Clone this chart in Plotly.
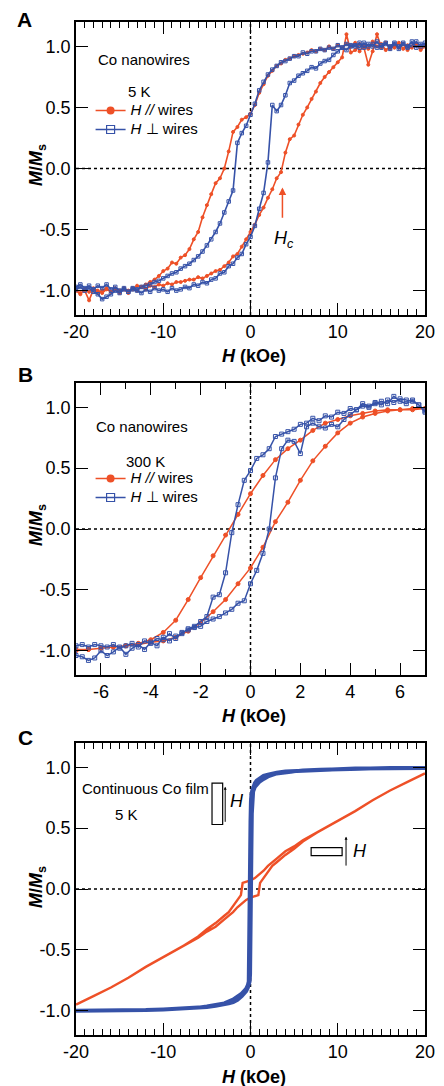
import plotly.graph_objects as go

RED = '#EE5027'
BLUE = '#3652A8'
FONT = 'Liberation Sans, Arial, Helvetica, sans-serif'

# ---------------- panel A : Co nanowires, 5 K ----------------
# field sweep from +20 down to -20 kOe; ascending branch uses the reverse
H_A = [20, 19.5, 19, 18.5, 18, 17.5, 17, 16.5, 16, 15.5, 15, 14.5, 14, 13.5, 13, 12.5, 12, 11.5, 11, 10.5,
       10, 9.5, 9, 8.5, 8, 7.5, 7, 6.5, 6, 5.5, 5, 4.5, 4, 3.5, 3, 2.5, 2, 1.5, 1, 0.5,
       0, -0.5, -1, -1.5, -2, -2.5, -3, -3.5, -4, -4.5, -5, -5.5, -6, -6.5, -7, -7.5, -8, -8.5, -9, -9.5,
       -10, -10.5, -11, -11.5, -12, -12.5, -13, -13.5, -14, -14.5, -15, -15.5, -16, -16.5, -17, -17.5, -18, -18.5, -19, -19.5,
       -20]

# H // wires, sweep down (20 -> -20)
red_a_down = [1.00, 0.97, 1.02, 0.99, 1.01, 0.98, 1.03, 0.99, 1.00, 0.97, 1.02, 1.00, 1.04, 0.98, 1.01, 0.96, 1.03, 1.00, 1.02, 0.99,
              1.01, 0.98, 1.00, 0.97, 0.98, 0.96, 0.97, 0.95, 0.94, 0.93, 0.92, 0.90, 0.89, 0.86, 0.84, 0.80, 0.76, 0.69, 0.62, 0.52,
              0.45, 0.42, 0.40, 0.34, 0.30, 0.14, 0.00, -0.08, -0.12, -0.21, -0.30, -0.40, -0.52, -0.58, -0.66, -0.71, -0.73, -0.78, -0.77, -0.82,
              -0.84, -0.88, -0.91, -0.93, -0.95, -0.97, -0.96, -0.99, -1.00, -0.98, -1.02, -0.99, -1.01, -0.98, -1.00, -1.02, -0.99, -1.08, -1.00, -1.02,
              -1.00]
# H // wires, sweep up (-20 -> 20)
red_a_up = [-1.00, -1.03, -0.99, -1.01, -0.98, -1.00, -1.02, -0.99, -1.01, -0.98, -1.00, -0.99, -1.02, -0.98, -1.00, -0.97, -0.99, -0.96, -0.97, -0.95,
            -0.96, -0.94, -0.95, -0.93, -0.93, -0.92, -0.91, -0.91, -0.89, -0.90, -0.88, -0.86, -0.84, -0.83, -0.80, -0.77, -0.72, -0.70, -0.64, -0.58,
            -0.52, -0.46, -0.38, -0.32, -0.24, -0.17, -0.08, -0.03, 0.13, 0.24, 0.27, 0.36, 0.44, 0.50, 0.57, 0.63, 0.70, 0.75, 0.79, 0.83,
            0.87, 0.91, 1.10, 0.95, 0.97, 1.02, 0.99, 0.85, 0.96, 1.10, 0.99, 1.03, 0.98, 1.01, 0.99, 1.02, 0.97, 1.00, 1.02, 0.98,
            1.00]
# H perpendicular to wires, sweep down (20 -> -20)
blue_a_down = [1.03, 1.00, 1.04, 1.01, 0.99, 1.03, 1.00, 1.02, 0.98, 1.03, 1.01, 0.99, 1.02, 1.00, 1.03, 0.99, 1.01, 1.00, 1.02, 0.99,
               1.01, 0.98, 0.99, 0.97, 0.98, 0.96, 0.96, 0.94, 0.95, 0.92, 0.92, 0.90, 0.88, 0.87, 0.84, 0.81, 0.77, 0.71, 0.64, 0.53,
               0.44, 0.35, 0.29, 0.21, -0.18, -0.27, -0.36, -0.45, -0.52, -0.58, -0.63, -0.68, -0.72, -0.75, -0.78, -0.80, -0.82, -0.85, -0.86, -0.88,
               -0.90, -0.92, -0.93, -0.95, -0.96, -0.97, -0.99, -0.98, -1.01, -0.99, -1.02, -1.00, -1.03, -1.05, -1.07, -1.03, -1.01, -0.98, -1.00, -0.97,
               -0.99]
# H perpendicular to wires, sweep up (-20 -> 20)
blue_a_up = [-0.97, -0.95, -0.98, -0.96, -0.99, -0.96, -0.98, -0.95, -0.99, -0.97, -1.00, -0.98, -1.01, -0.99, -1.00, -1.02, -0.99, -1.01, -0.98, -1.00,
             -0.99, -1.01, -0.98, -1.00, -0.99, -0.97, -0.98, -0.95, -0.96, -0.93, -0.94, -0.91, -0.90, -0.86, -0.85, -0.80, -0.78, -0.73, -0.70, -0.62,
             -0.56, -0.47, -0.33, -0.20, 0.05, 0.52, 0.47, 0.52, 0.60, 0.70, 0.72, 0.76, 0.78, 0.80, 0.83, 0.82, 0.86, 0.88, 0.89, 0.93,
             0.96, 0.99, 0.97, 1.01, 1.00, 1.03, 0.99, 1.02, 1.00, 1.04, 0.99, 1.02, 1.00, 1.03, 0.98, 1.02, 1.00, 1.04, 0.99, 1.02,
             1.01]

# ---------------- panel B : Co nanowires, 300 K ----------------
H_B_RED = [7, 6.5, 6, 5.5, 5, 4.5, 4, 3.5, 3, 2.5, 2, 1.5, 1, 0.5, 0,
           -0.5, -1, -1.5, -2, -2.5, -3, -3.5, -4, -4.5, -5, -5.5, -6, -6.5, -7]
red_b_down = [0.99, 0.99, 0.98, 0.98, 0.97, 0.95, 0.93, 0.90, 0.87, 0.81, 0.73, 0.66, 0.57, 0.44, 0.29,
              0.12, -0.05, -0.22, -0.40, -0.58, -0.75, -0.85, -0.91, -0.94, -0.96, -0.97, -0.98, -0.99, -1.00]
red_b_up = [-0.99, -0.99, -0.98, -0.97, -0.96, -0.95, -0.93, -0.92, -0.89, -0.84, -0.77, -0.68, -0.58, -0.45, -0.32,
            -0.15, 0.06, 0.22, 0.40, 0.56, 0.68, 0.79, 0.87, 0.92, 0.95, 0.97, 0.98, 0.98, 0.99]

H_B_BLUE = [7, 6.75, 6.5, 6.25, 6, 5.75, 5.5, 5.25, 5, 4.75, 4.5, 4.25, 4, 3.75, 3.5, 3.25, 3, 2.75, 2.5, 2.25,
            2, 1.75, 1.5, 1.25, 1, 0.75, 0.5, 0.25, 0, -0.25, -0.5, -0.75, -1, -1.25, -1.5, -1.75, -2, -2.25, -2.5, -2.75,
            -3, -3.25, -3.5, -3.75, -4, -4.25, -4.5, -4.75, -5, -5.25, -5.5, -5.75, -6, -6.25, -6.5, -6.75, -7]
blue_b_down = [0.97, 1.02, 1.05, 1.06, 1.07, 1.04, 1.06, 1.02, 1.04, 1.01, 1.03, 0.98, 0.99, 0.95, 0.96, 0.92, 0.93, 0.89, 0.91, 0.87,
               0.86, 0.82, 0.80, 0.78, 0.76, 0.66, 0.61, 0.58, 0.48, 0.40, 0.20, -0.03, -0.36, -0.54, -0.56, -0.72, -0.76, -0.80, -0.82, -0.86,
               -0.88, -0.92, -0.89, -0.96, -0.93, -0.99, -0.95, -0.98, -1.03, -0.97, -1.01, -1.04, -1.00, -1.06, -1.08, -1.05, -1.04]
blue_b_up = [-0.96, -0.95, -0.97, -0.95, -0.96, -0.97, -0.95, -0.98, -0.96, -0.94, -0.97, -0.92, -0.94, -0.90, -0.91, -0.86, -0.90, -0.85, -0.83, -0.81,
             -0.80, -0.76, -0.74, -0.72, -0.69, -0.66, -0.61, -0.59, -0.45, -0.34, -0.20, 0.00, 0.42, 0.66, 0.73, 0.72, 0.62, 0.84, 0.87, 0.84,
             0.83, 0.86, 0.84, 0.90, 0.94, 0.98, 1.01, 1.00, 1.03, 1.05, 1.03, 1.09, 1.05, 1.03, 1.06, 1.02, 0.96]

# ---------------- panel C : continuous Co film, 5 K ----------------
H_C_RED = [20, 18, 16, 14, 12, 10, 8, 6, 5, 4, 3, 2, 1.5, 1, 0.5, 0, -0.5, -0.9, -1.1, -1.5, -2, -2.5, -3, -4, -5, -6,
           -8, -10, -12, -14, -16, -18, -20]
red_c_down = [0.95, 0.88, 0.81, 0.73, 0.64, 0.56, 0.48, 0.40, 0.35, 0.31, 0.25, 0.19, 0.15, 0.12, 0.09, 0.07, 0.06, 0.05, -0.05, -0.09,
              -0.15, -0.19, -0.22, -0.28, -0.33, -0.39, -0.48, -0.56, -0.64, -0.73, -0.81, -0.88, -0.95]
H_C_RED_UP = [-20, -18, -16, -14, -12, -10, -8, -6, -5, -4, -3, -2, -1.5, -1, -0.5, 0, 0.5, 0.9, 1.1, 1.5, 2, 2.5, 3, 4, 5, 6,
              8, 10, 12, 14, 16, 18, 20]
red_c_up = [-0.95, -0.88, -0.81, -0.73, -0.64, -0.56, -0.48, -0.40, -0.35, -0.31, -0.25, -0.19, -0.15, -0.12, -0.09, -0.07, -0.06, -0.05, 0.05, 0.09,
            0.15, 0.19, 0.22, 0.28, 0.33, 0.39, 0.48, 0.56, 0.64, 0.73, 0.81, 0.88, 0.95]

H_C_BLUE = [20, 18, 16, 14, 12, 10, 8, 6, 5, 4, 3, 2.5, 2, 1.5, 1, 0.7, 0.5, 0.3, 0.2, 0.1, 0.05, 0,
            -0.05, -0.1, -0.15, -0.2, -0.3, -0.5, -1, -1.5, -2, -3, -4, -5, -6, -8, -10, -12, -14, -16, -18, -20]
blue_c_down = [0.995, 0.995, 0.99, 0.99, 0.99, 0.985, 0.98, 0.975, 0.97, 0.965, 0.955, 0.95, 0.94, 0.93, 0.91, 0.89, 0.87, 0.84, 0.81, 0.77, 0.72, 0.55,
               0.20, -0.30, -0.65, -0.76, -0.79, -0.82, -0.86, -0.89, -0.91, -0.94, -0.955, -0.965, -0.975, -0.985, -0.99, -0.995, -0.995, -1.0, -1.0, -1.0]
H_C_BLUE_UP = [-20, -18, -16, -14, -12, -10, -8, -6, -5, -4, -3, -2.5, -2, -1.5, -1, -0.7, -0.5, -0.3, -0.2, -0.1, -0.05, 0,
               0.05, 0.1, 0.15, 0.2, 0.3, 0.5, 1, 1.5, 2, 3, 4, 5, 6, 8, 10, 12, 14, 16, 18, 20]
blue_c_up = [-1.0, -1.0, -1.0, -0.995, -0.995, -0.99, -0.985, -0.975, -0.97, -0.96, -0.95, -0.94, -0.93, -0.91, -0.88, -0.86, -0.84, -0.81, -0.79, -0.76, -0.70, -0.50,
             -0.15, 0.30, 0.62, 0.75, 0.80, 0.84, 0.88, 0.905, 0.925, 0.95, 0.96, 0.97, 0.975, 0.98, 0.985, 0.99, 0.99, 0.995, 0.995, 0.995]

# ticks
X_TICKS_AC = [-20, -10, 0, 10, 20]
X_TEXT_AC = ['-20', '-10', '0', '10', '20']
X_TICKS_B = [-6, -4, -2, 0, 2, 4, 6]
X_TEXT_B = ['-6', '-4', '-2', '0', '2', '4', '6']
Y_TICKS = [-1.0, -0.5, 0.0, 0.5, 1.0]
Y_TEXT = ['-1.0', '-0.5', '0.0', '0.5', '1.0']

# page geometry (pixels) -> paper coords
W, HT = 444, 1086
ML, MR, MT, MB = 76, 9, 22, 51
PW, PH = W - ML - MR, HT - MT - MB


def px(x):
    return (x - ML) / PW


def py(y):
    return (HT - MB - y) / PH


fig = go.Figure()


def loop(xref, yref, hx, down, hx_up, up, color, symbol, size, width, mode='lines+markers'):
    fig.add_trace(go.Scatter(x=hx + hx_up, y=down + up, xaxis=xref, yaxis=yref, mode=mode,
                             line=dict(color=color, width=width),
                             marker=dict(symbol=symbol, size=size, color=color, line=dict(color=color, width=1)),
                             showlegend=False, hoverinfo='skip'))


loop('x', 'y', H_A, red_a_down, H_A[::-1], red_a_up, RED, 'circle', 3, 1.6)
loop('x', 'y', H_A, blue_a_down, H_A[::-1], blue_a_up, BLUE, 'square-open', 3.5, 1.6)
loop('x2', 'y2', H_B_RED, red_b_down, H_B_RED[::-1], red_b_up, RED, 'circle', 4, 1.5)
loop('x2', 'y2', H_B_BLUE, blue_b_down, H_B_BLUE[::-1], blue_b_up, BLUE, 'square-open', 4, 1.5)
loop('x3', 'y3', H_C_RED, red_c_down, H_C_RED_UP, red_c_up, RED, 'circle', 3, 2.4, mode='lines')
loop('x3', 'y3', H_C_BLUE, blue_c_down, H_C_BLUE_UP, blue_c_up, BLUE, 'square', 3, 4, mode='lines')

# legend keys
for lg, xa, ya in [('legend', 'x', 'y'), ('legend2', 'x2', 'y2')]:
    fig.add_trace(go.Scatter(x=[None], y=[None], xaxis=xa, yaxis=ya, mode='lines+markers', legend=lg,
                             name='<span style="font-size:15px"><i>H //</i> wires</span>',
                             line=dict(color=RED, width=1.5), marker=dict(symbol='circle', size=8, color=RED)))
    fig.add_trace(go.Scatter(x=[None], y=[None], xaxis=xa, yaxis=ya, mode='lines+markers', legend=lg,
                             name='<span style="font-size:15px"><i>H</i> \u22a5 wires</span>',
                             line=dict(color=BLUE, width=1.5),
                             marker=dict(symbol='square-open', size=8, color=BLUE, line=dict(color=BLUE, width=1.2))))

minor_1 = dict(ticks='inside', ticklen=6, tickwidth=1, tickcolor='black', tickmode='linear', tick0=0, dtick=1, showgrid=False)
ax_common = dict(showline=True, linecolor='black', linewidth=1.5, mirror='ticks', ticks='inside', ticklen=12,
                 tickwidth=1.2, tickcolor='black', showgrid=False, zeroline=False,
                 tickfont=dict(size=18, color='black', family=FONT))


def xaxis(anchor, rng, tv, tt):
    return dict(ax_common, domain=[0, 1], anchor=anchor, range=rng, tickmode='array', tickvals=tv, ticktext=tt,
                minor=minor_1)


def yaxis(anchor, dom):
    return dict(ax_common, domain=dom, anchor=anchor, range=[-1.2, 1.2], tickmode='array',
                tickvals=Y_TICKS, ticktext=Y_TEXT)


dom_a = [py(315), 1.0]
dom_b = [py(675), py(383)]
dom_c = [0.0, py(743)]

shapes = []
for xa, ya in [('x', 'y'), ('x2', 'y2'), ('x3', 'y3')]:
    shapes.append(dict(type='line', xref=xa, yref=ya + ' domain', x0=0, x1=0, y0=0, y1=1, layer='below',
                       line=dict(color='black', width=1.5, dash='dot')))
    shapes.append(dict(type='line', xref=xa + ' domain', yref=ya, x0=0, x1=1, y0=0, y1=0, layer='below',
                       line=dict(color='black', width=1.5, dash='dot')))
# film schematics in panel C
shapes.append(dict(type='rect', xref='x3', yref='y3', x0=-4.41, x1=-3.19, y0=0.53, y1=0.87,
                   line=dict(color='black', width=1.2)))
shapes.append(dict(type='rect', xref='x3', yref='y3', x0=6.95, x1=10.5, y0=0.275, y1=0.34,
                   line=dict(color='black', width=1.2)))


def txt(x, y, text, size=15, xanchor='center', **kw):
    d = dict(xref='paper', yref='paper', x=px(x), y=py(y), text=text, showarrow=False, xanchor=xanchor,
             yanchor='middle', font=dict(size=size, color='black', family=FONT))
    d.update(kw)
    return d


ann = [
    txt(23, 20, '<b>A</b>', 21),
    txt(24, 375, '<b>B</b>', 21),
    txt(24, 737, '<b>C</b>', 21),
    txt(97, 60, 'Co nanowires', xanchor='left'),
    txt(141, 92, '5 K'),
    txt(95, 426, 'Co nanowires', xanchor='left'),
    txt(148, 461, '300 K'),
    txt(80, 788, 'Continuous Co film', xanchor='left'),
    txt(128, 814, '5 K'),
]
for yc, yt in [(165, 356), (525, 716), (887, 1077)]:
    ann.append(txt(36, yc, '<b><i>M</i>/<i>M</i><sub>s</sub></b>', 18, textangle=-90))
    ann.append(txt(259, yt, '<b><i>H</i> (kOe)</b>', 18))

# H_c marker in panel A
ann.append(dict(xref='x', yref='y', axref='x', ayref='y', x=3.66, y=-0.155, ax=3.66, ay=-0.415, text='',
                showarrow=True, arrowhead=2, arrowsize=1, arrowwidth=1.5, arrowcolor=RED))
ann.append(dict(xref='x', yref='y', x=3.85, y=-0.585, text='<i>H<sub>c</sub></i>', showarrow=False,
                font=dict(size=18, color='black', family=FONT)))
# field arrows in panel C
ann.append(dict(xref='x3', yref='y3', axref='x3', ayref='y3', x=-2.9, y=0.84, ax=-2.9, ay=0.54, text='',
                showarrow=True, arrowhead=2, arrowsize=0.6, arrowwidth=1, arrowcolor='black'))
ann.append(dict(xref='x3', yref='y3', x=-1.55, y=0.72, text='<i>H</i>', showarrow=False,
                font=dict(size=18, color='black', family=FONT)))
ann.append(dict(xref='x3', yref='y3', axref='x3', ayref='y3', x=10.95, y=0.43, ax=10.95, ay=0.18, text='',
                showarrow=True, arrowhead=2, arrowsize=0.6, arrowwidth=1, arrowcolor='black'))
ann.append(dict(xref='x3', yref='y3', x=12.5, y=0.31, text='<i>H</i>', showarrow=False,
                font=dict(size=18, color='black', family=FONT)))

leg_common = dict(xanchor='left', yanchor='top', bgcolor='rgba(0,0,0,0)', borderwidth=0,
                  font=dict(size=12, color='black', family=FONT), itemclick=False)

fig.update_layout(
    width=W, height=HT,
    margin=dict(l=ML, r=MR, t=MT, b=MB),
    paper_bgcolor='white', plot_bgcolor='white',
    font=dict(family=FONT, color='black'),
    xaxis=xaxis('y', [-20, 20], X_TICKS_AC, X_TEXT_AC),
    yaxis=yaxis('x', dom_a),
    xaxis2=xaxis('y2', [-7, 7], X_TICKS_B, X_TEXT_B),
    yaxis2=yaxis('x2', dom_b),
    xaxis3=xaxis('y3', [-20, 20], X_TICKS_AC, X_TEXT_AC),
    yaxis3=yaxis('x3', dom_c),
    legend=dict(leg_common, x=px(91), y=py(96)),
    legend2=dict(leg_common, x=px(91), y=py(464)),
    shapes=shapes,
    annotations=ann,
)

# drop the default page margin so the figure sits at the window's top-left corner
fig.write_html("out.html", config={'displayModeBar': False},
               post_script="document.body.style.margin='0';")
